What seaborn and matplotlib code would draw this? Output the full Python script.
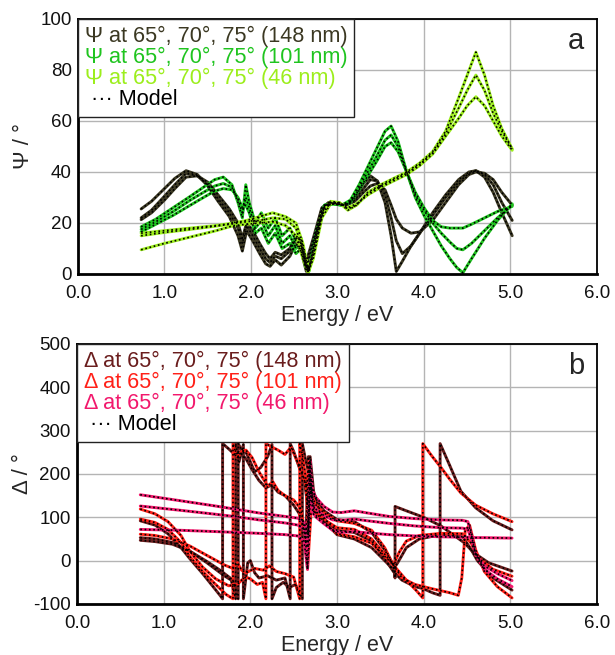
import pandas as pd
import seaborn as sns
import matplotlib.pyplot as plt
from matplotlib.lines import Line2D

sns.set_style("white")
plt.rcParams["font.family"] = ["Liberation Sans", "DejaVu Sans"]
plt.rcParams["axes.unicode_minus"] = False

# ---------------- Psi data (degrees), three angles per film ----------------
e_psi_148 = [0.73, 0.85, 1.0, 1.12, 1.25, 1.38, 1.5, 1.62, 1.75, 1.85, 1.9, 1.95, 2.02, 2.1, 2.17,
             2.22, 2.28, 2.35, 2.45, 2.52, 2.58, 2.64, 2.72, 2.82, 2.9, 3.0, 3.1, 3.2, 3.3, 3.38,
             3.46, 3.55, 3.62, 3.68, 3.75, 3.85, 3.95, 4.1, 4.25, 4.4, 4.52, 4.6, 4.7, 4.8, 4.9, 5.02]
psi_148_a = [25.5, 28.5, 33.5, 37.5, 40.5, 39, 34.5, 28.5, 22.5, 15, 9, 17, 13, 8, 4,
             3, 5.5, 3.5, 7, 12, 9, 1, 12, 25, 28, 27.5, 27, 30, 35.5, 38.5,
             36.5, 28, 15, 1, 5, 11, 16, 24, 31, 37, 40, 40.5, 38, 32, 24, 15]
psi_148_b = [22, 25, 30.5, 35, 39.5, 38.5, 35, 29.5, 24, 18, 12, 19, 15, 10, 6,
             4.5, 7, 6, 9, 14, 11, 3, 13, 25.5, 28, 27.5, 27, 29, 33.5, 37,
             36.5, 31, 22, 13, 8, 11, 16, 23, 30, 36, 39.5, 40.5, 39, 35, 28, 21]
psi_148_c = [21.3, 24, 29, 33.5, 38, 38.5, 36, 31, 25.5, 20, 14, 20, 17, 12, 8,
             6, 8.5, 7.5, 10, 15, 13, 5, 14, 26, 28, 27.5, 27, 28.5, 32, 34.5,
             35.5, 33, 27, 21.5, 18, 16, 16.5, 21, 28, 35, 39, 40, 39.5, 37, 32, 27]

e_psi_101 = [0.73, 0.9, 1.1, 1.3, 1.45, 1.58, 1.68, 1.78, 1.85, 1.9, 1.94, 1.98, 2.05, 2.12, 2.2,
             2.28, 2.36, 2.45, 2.52, 2.58, 2.63, 2.67, 2.75, 2.85, 2.95, 3.05, 3.15, 3.25, 3.35, 3.45,
             3.55, 3.62, 3.7, 3.8, 3.9, 4.0, 4.1, 4.2, 4.3, 4.38, 4.45, 4.55, 4.7, 4.85, 5.02]
psi_101_a = [18.5, 21.5, 26, 30.5, 34, 37, 38, 35, 28, 22, 35, 28, 20, 24, 18,
             22, 15, 18, 13, 14, 5, 2, 16, 27, 27.5, 27, 29, 35, 42, 49,
             56, 58, 52, 40, 30, 23, 17, 11, 6, 2.5, 0.5, 6, 14, 21, 27.5]
psi_101_b = [17.5, 20.5, 24.5, 29, 32, 34.5, 35.5, 34, 29, 24, 30, 26, 18, 21, 15,
             19, 12, 15, 10, 12, 4, 1.5, 15, 27, 27.5, 27, 28.5, 34, 40, 46,
             52.5, 54.5, 50, 40, 31, 25, 20, 16, 12.5, 10, 9.5, 12, 17, 22, 27]
psi_101_c = [16.5, 19.5, 23, 27, 30, 32.5, 33.5, 33, 30, 26, 27, 24, 16, 18, 12,
             16, 10, 12, 8, 10, 3, 1, 14, 26.5, 27.5, 27, 28, 33, 38.5, 44,
             50, 51.5, 48, 40, 32, 26, 21, 18.5, 18, 18, 18, 19.5, 22, 24.5, 26.5]

e_psi_46 = [0.73, 1.0, 1.3, 1.6, 1.8, 1.95, 2.1, 2.25, 2.4, 2.52, 2.6, 2.66, 2.72, 2.82, 2.92, 3.02,
            3.12, 3.22, 3.35, 3.5, 3.65, 3.8, 3.95, 4.1, 4.25, 4.4, 4.5, 4.6, 4.7, 4.8, 4.9, 5.02]
psi_46_a = [16, 17, 18, 19, 20, 21, 22.5, 24, 22.5, 20, 12, 2, 8, 24, 28.5, 28,
            25, 27, 32, 35, 37.5, 40, 43.5, 48, 56, 69, 78, 87, 78, 66, 57, 49]
psi_46_b = [15, 16.3, 17.5, 18.8, 19.7, 20.5, 21, 22, 21.5, 18, 9, 1, 7, 23, 28, 28,
            25.5, 27, 31.5, 34.5, 37, 39.5, 43, 47.5, 55, 65, 72, 78, 72, 63, 56, 49]
psi_46_c = [9.5, 12, 14.5, 17, 19, 19.5, 20, 20.5, 19, 15, 6, 0.5, 6, 22, 27.5, 28,
            26, 27.5, 31, 34, 36.5, 39, 42.5, 47, 54, 61, 66, 69.5, 66, 60, 54, 48.5]

# ---------------- Delta data (degrees), wrapped between -90 and 270 ----------------
e_d148_a = [0.73, 0.9, 1.05, 1.2, 1.3, 1.45, 1.55, 1.65, 1.68, 1.68, 1.75, 1.82, 1.88, 1.95, 2.02,
            2.1, 2.18, 2.25, 2.32, 2.4, 2.5, 2.56, 2.6, 2.64, 2.67, 2.7, 2.75, 2.85, 3.0, 3.2,
            3.4, 3.55, 3.65, 3.67, 3.67, 3.8, 4.0, 4.2, 4.47, 4.58, 4.75, 5.02]
d148_a = [92, 82, 62, 30, 5, -30, -55, -80, -88, 270, 258, 245, 250, 235, 210,
          185, 168, 175, 158, 150, 128, 110, 90, 40, 240, 160, 145, 115, 95, 90,
          65, 25, -10, -40, 125, 115, 100, 80, 41, 18, -5, -24]
e_d148_b = [0.73, 0.9, 1.1, 1.3, 1.5, 1.7, 1.78, 1.83, 1.83, 1.87, 1.92, 1.92, 1.97, 2.0, 2.05,
            2.1, 2.2, 2.3, 2.4, 2.46, 2.46, 2.5, 2.57, 2.62, 2.66, 2.69, 2.73, 2.8, 2.9, 3.0,
            3.2, 3.4, 3.55, 3.65, 3.75, 3.9, 4.0, 4.1, 4.19, 4.19, 4.3, 4.43, 4.6, 4.8, 5.02]
d148_b = [53, 50, 42, 22, -5, -35, -45, -88, 270, 228, 268, -88, -5, 0, -28,
          -40, -35, -45, -40, -88, 270, 252, 212, 190, 130, 240, 160, 112, 86, 70,
          65, 45, 5, -25, -45, -60, -65, -74, -80, 270, 220, 160, 122, 92, 71]
e_d148_c = [0.73, 0.9, 1.1, 1.3, 1.5, 1.65, 1.8, 1.86, 1.86, 1.9, 1.95, 2.0, 2.05, 2.12, 2.2,
            2.25, 2.25, 2.3, 2.38, 2.45, 2.52, 2.6, 2.6, 2.64, 2.68, 2.72, 2.78, 2.88, 3.0, 3.2,
            3.4, 3.55, 3.65, 3.7, 3.8, 3.95, 4.2, 4.45, 4.55, 4.62, 4.8, 5.02]
d148_c = [47, 44, 38, 22, -2, -22, -45, -88, 270, 255, 250, 228, 205, 215, 240,
          268, -88, -62, -50, -62, -55, -88, 270, 230, 200, 120, 105, 85, 60, 50,
          30, 0, -20, -5, 30, 50, 60, 55, 25, 0, -40, -68]

e_d101_a = [0.73, 0.9, 1.05, 1.2, 1.3, 1.45, 1.6, 1.75, 1.85, 1.9, 1.95, 2.0, 2.08, 2.14, 2.18,
            2.18, 2.25, 2.32, 2.4, 2.47, 2.55, 2.6, 2.65, 2.68, 2.71, 2.75, 2.85, 3.0, 3.2, 3.4,
            3.55, 3.65, 3.75, 3.9, 4.1, 4.3, 4.4, 4.44, 4.48, 4.53, 4.6, 4.7, 4.85, 5.02]
d101_a = [119, 108, 90, 58, 22, -15, -42, -58, -55, -45, -38, -42, -55, -50, -88,
          270, 262, 255, 245, 262, 225, 200, 170, 230, 150, 130, 110, 92, 86, 70,
          30, -10, -40, -55, -65, -74, -80, -40, 70, 82, 25, -25, -60, -86]
e_d101_b = [0.73, 0.9, 1.05, 1.2, 1.3, 1.45, 1.6, 1.72, 1.8, 1.8, 1.85, 1.9, 1.95, 2.02, 2.1,
            2.2, 2.26, 2.32, 2.4, 2.5, 2.58, 2.63, 2.66, 2.7, 2.75, 2.85, 3.0, 3.2, 3.4, 3.55,
            3.65, 3.8, 3.92, 3.99, 3.99, 4.1, 4.2, 4.3, 4.43, 4.6, 4.8, 5.02]
d101_b = [96, 88, 72, 42, 10, -25, -55, -78, -88, 270, 238, 252, 255, 238, 205,
          172, 182, 162, 150, 140, 120, 70, -20, 110, 115, 95, 76, 72, 50, 15,
          -10, -45, -70, -86, 270, 240, 215, 188, 156, 128, 108, 90]
e_d101_c = [0.73, 0.9, 1.1, 1.3, 1.5, 1.7, 1.8, 1.85, 1.9, 1.95, 2.05, 2.15, 2.22, 2.3, 2.4,
            2.5, 2.57, 2.57, 2.6, 2.64, 2.67, 2.7, 2.75, 2.85, 3.0, 3.2, 3.4, 3.55, 3.65, 3.72,
            3.8, 3.95, 4.2, 4.45, 4.55, 4.62, 4.8, 5.02]
d101_c = [61, 58, 50, 34, 12, -10, -18, -5, -22, -28, -18, -22, -12, -25, -30,
          -38, -88, 270, 245, 190, 60, 170, 105, 90, 62, 55, 40, 10, -10, 20,
          45, 58, 63, 62, 40, 8, -20, -36]

e_d46 = [0.73, 1.2, 1.6, 1.85, 2.1, 2.4, 2.55, 2.62, 2.66, 2.69, 2.72, 2.76, 2.85, 2.95,
         3.05, 3.2, 3.35, 3.6, 3.9, 4.2, 4.45, 4.51, 4.55, 4.6, 4.7, 4.85, 5.02]
d46_a = [152, 138, 126, 118, 110, 102, 98, 88, 60, 200, 160, 145, 125, 112,
         111, 115, 110, 102, 97, 94, 93, 90, 60, 15, -20, -42, -60]
d46_b = [126, 116, 107, 101, 94, 87, 82, 72, 30, 175, 130, 118, 104, 94,
         93, 96, 92, 86, 80, 76, 75, 72, 50, 15, -12, -30, -46]
d46_c = [72, 70, 67, 65, 63, 60, 57, 45, -20, 230, 110, 100, 85, 70,
         65, 67, 64, 60, 57, 55, 54, 54, 54, 53, 53, 52.5, 52]

films = ["148 nm", "101 nm", "46 nm"]
psi_colors = ["#3b3822", "#1fc41f", "#9cee1c"]
delta_colors = ["#6a1d1d", "#ff2018", "#f2186c"]

psi_curves = [
    ("148 nm", "65", e_psi_148, psi_148_a), ("148 nm", "70", e_psi_148, psi_148_b),
    ("148 nm", "75", e_psi_148, psi_148_c),
    ("101 nm", "65", e_psi_101, psi_101_a), ("101 nm", "70", e_psi_101, psi_101_b),
    ("101 nm", "75", e_psi_101, psi_101_c),
    ("46 nm", "65", e_psi_46, psi_46_a), ("46 nm", "70", e_psi_46, psi_46_b),
    ("46 nm", "75", e_psi_46, psi_46_c),
]
delta_curves = [
    ("148 nm", "65", e_d148_a, d148_a), ("148 nm", "70", e_d148_b, d148_b),
    ("148 nm", "75", e_d148_c, d148_c),
    ("101 nm", "65", e_d101_a, d101_a), ("101 nm", "70", e_d101_b, d101_b),
    ("101 nm", "75", e_d101_c, d101_c),
    ("46 nm", "65", e_d46, d46_a), ("46 nm", "70", e_d46, d46_b),
    ("46 nm", "75", e_d46, d46_c),
]


def to_frame(curves):
    rows = []
    for film, angle, e, v in curves:
        assert len(e) == len(v), (film, angle, len(e), len(v))
        for x, y in zip(e, v):
            rows.append((film + " " + angle, film, x, y))
    return pd.DataFrame(rows, columns=["curve", "film", "energy", "value"])


def draw(ax, df, colors):
    sns.lineplot(data=df, x="energy", y="value", hue="film", hue_order=films,
                 palette=colors, units="curve", estimator=None, sort=False,
                 lw=2.1, legend=False, ax=ax)
    # model overlay
    sns.lineplot(data=df, x="energy", y="value", units="curve", estimator=None,
                 sort=False, color="black", lw=1.2, linestyle=(0, (1, 1.6)),
                 legend=False, ax=ax)


def style(ax, yticks, ylabel, letter, colors, sym):
    ax.set_xlim(0, 6)
    ax.set_xticks(range(7))
    ax.set_xticklabels([f"{t:.1f}" for t in range(7)])
    ax.set_ylim(yticks[0], yticks[-1])
    ax.set_yticks(yticks)
    ax.grid(True, color="#b4b4b4", lw=1)
    ax.set_axisbelow(True)
    ax.tick_params(length=0, labelsize=13.5, colors="#111111")
    ax.tick_params(axis="x", pad=8)
    ax.tick_params(axis="y", pad=4.5)
    for s in ax.spines.values():
        s.set_color("black")
        s.set_linewidth(1.3)
    ax.spines["left"].set_linewidth(2)
    ax.spines["bottom"].set_linewidth(2)
    ax.set_xlabel("Energy / eV", fontsize=15.5)
    ax.set_ylabel(ylabel, fontsize=16)
    ax.xaxis.set_label_coords(0.5, -0.12)
    ax.yaxis.set_label_coords(-0.085, 0.5)
    ax.text(0.975, 0.915, letter, transform=ax.transAxes, ha="right", va="center",
            fontsize=21)
    labels = [f"{sym} at 65°, 70°, 75° ({f})" for f in films] + [" ··· Model"]
    handles = [Line2D([], [], lw=0) for _ in labels]
    leg = ax.legend(handles, labels, loc="upper left", borderaxespad=0,
                    handlelength=0, handletextpad=0, fancybox=False,
                    framealpha=1, edgecolor="#222222", fontsize=15.6,
                    labelspacing=0.0, borderpad=0.32)
    leg.get_frame().set_linewidth(1.0)
    for t, c in zip(leg.get_texts(), colors + ["black"]):
        t.set_color(c)


fig = plt.figure(figsize=(6.15, 6.55), dpi=100)
ax1 = fig.add_axes([0.1268, 0.5817, 0.8439, 0.3893])
ax2 = fig.add_axes([0.1252, 0.0779, 0.8455, 0.3970])

draw(ax1, to_frame(psi_curves), psi_colors)
style(ax1, list(range(0, 101, 20)), "Ψ / °", "a", psi_colors, "Ψ")

draw(ax2, to_frame(delta_curves), delta_colors)
style(ax2, list(range(-100, 501, 100)), "Δ / °", "b", delta_colors, "Δ")

fig.savefig("out.png", dpi=100)
